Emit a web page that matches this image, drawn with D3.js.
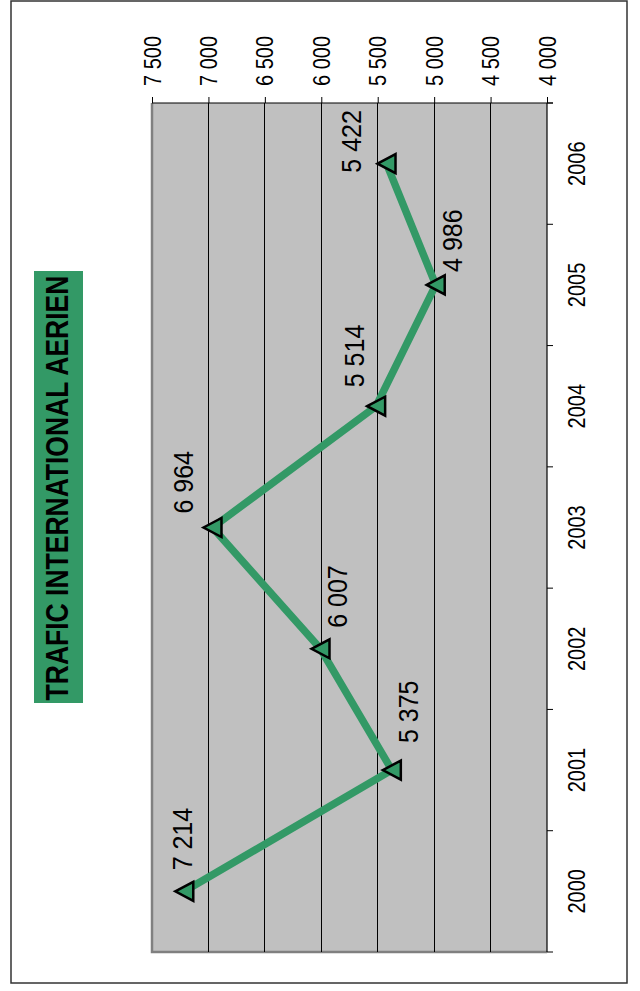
<!DOCTYPE html>
<html>
<head>
<meta charset="utf-8">
<script src="https://cdn.jsdelivr.net/npm/d3@7"></script>
<style>
  html, body { margin: 0; padding: 0; background: #fff; }
  svg { display: block; font-family: "Liberation Sans", Arial, sans-serif; }
</style>
</head>
<body>
<svg id="chart" width="640" height="991"></svg>
<script>
// ---- data ----
const title = "TRAFIC INTERNATIONAL AERIEN";
const years = ["2000", "2001", "2002", "2003", "2004", "2005", "2006"];
const traffic = [7214, 5375, 6007, 6964, 5514, 4986, 5422];
const valueTicks = [4000, 4500, 5000, 5500, 6000, 6500, 7000, 7500];

// ---- layout (chart is drawn rotated by -90 degrees) ----
const plot = { left: 152, right: 547, top: 103, bottom: 952 };
// manual label offsets (screen x shift, screen gap above point)
const labelShiftX = [-2, 17, 17, -29, -21, 17, -35];
const labelGapY = [21, 27, 21, 14, 19, 13, -9];
const green = "#339966";

const fmt = d3.formatLocale({ decimal: ",", thousands: " ", grouping: [3], currency: ["", ""] }).format(",");

const svg = d3.select("#chart");

// outer border
svg.append("rect").attr("x", 11).attr("y", 1).attr("width", 616).attr("height", 982)
  .attr("fill", "#fff").attr("stroke", "#333").attr("stroke-width", 1.5);

// scales: value -> screen x (reversed), year -> screen y (2000 at bottom)
const x = d3.scaleLinear().domain([4000, 7500]).range([plot.right, plot.left]);
const y = d3.scaleBand().domain(years).range([plot.bottom, plot.top]).padding(0);
const bw = y.bandwidth();
const cy = d => y(d) + bw / 2;

// plot area
svg.append("rect").attr("x", plot.left).attr("y", plot.top)
  .attr("width", plot.right - plot.left).attr("height", plot.bottom - plot.top)
  .attr("fill", "#c0c0c0");
// gray left & bottom border
svg.append("path")
  .attr("d", `M${plot.left},${plot.top}V${plot.bottom}H${plot.right}`)
  .attr("fill", "none").attr("stroke", "#808080").attr("stroke-width", 2.5);

// gridlines
svg.append("g").selectAll("line").data(valueTicks.filter(v => v > 4000 && v < 7500)).join("line")
  .attr("x1", d => x(d)).attr("x2", d => x(d))
  .attr("y1", plot.top).attr("y2", plot.bottom)
  .attr("stroke", "#000").attr("stroke-width", 1).attr("shape-rendering", "crispEdges");

// value axis (top)
const vAxis = svg.append("g").attr("transform", `translate(0,${plot.top})`)
  .call(d3.axisTop(x).tickValues(valueTicks).tickSize(6).tickSizeOuter(0).tickFormat(fmt));
vAxis.select(".domain").remove();
vAxis.selectAll(".tick line").attr("stroke", "#000").attr("stroke-width", 1);
vAxis.selectAll(".tick text")
  .attr("x", 0).attr("y", 0).attr("dy", null)
  .attr("transform", "translate(0,-17) rotate(-90) scale(1,1.19)")
  .attr("text-anchor", "start").attr("dominant-baseline", "central")
  .attr("font-size", 20).attr("fill", "#000")
  .attr("font-family", "'Liberation Sans', Arial, sans-serif");
svg.append("line").attr("x1", plot.left).attr("x2", plot.right + 6)
  .attr("y1", plot.top).attr("y2", plot.top).attr("stroke", "#000").attr("stroke-width", 1.2);

// category axis (right)
svg.append("line").attr("x1", plot.right).attr("x2", plot.right)
  .attr("y1", plot.top).attr("y2", plot.bottom).attr("stroke", "#000").attr("stroke-width", 1.2);
const bounds = years.map(d => y(d) + bw).concat([y(years[years.length - 1])]);
svg.append("g").selectAll("line").data(bounds).join("line")
  .attr("x1", plot.right).attr("x2", plot.right + 6)
  .attr("y1", d => d).attr("y2", d => d)
  .attr("stroke", "#000").attr("stroke-width", 1);
svg.append("g").selectAll("text").data(years).join("text")
  .attr("transform", d => `translate(577,${cy(d)}) rotate(-90) scale(1,1.19)`)
  .attr("text-anchor", "middle").attr("dominant-baseline", "central")
  .attr("font-size", 20).attr("fill", "#000")
  .text(d => d);

// line
const pts = years.map((d, i) => ({ year: d, v: traffic[i], i }));
svg.append("path").datum(pts)
  .attr("d", d3.line().x(d => x(d.v)).y(d => cy(d.year)))
  .attr("fill", "none").attr("stroke", green).attr("stroke-width", 7.5)
  .attr("stroke-linejoin", "round");

// markers (triangles pointing left on screen)
svg.append("g").selectAll("path").data(pts).join("path")
  .attr("transform", d => `translate(${x(d.v)},${cy(d.year)})`)
  .attr("d", "M-9,0L9,-9.5L9,9.5Z")
  .attr("fill", green).attr("stroke", "#000").attr("stroke-width", 2.5)
  .attr("stroke-linejoin", "miter");

// data labels
svg.append("g").selectAll("text").data(pts).join("text")
  .attr("transform", d => `translate(${x(d.v) + labelShiftX[d.i]},${cy(d.year) - labelGapY[d.i]}) rotate(-90) scale(1,1.08)`)
  .attr("text-anchor", "start").attr("dominant-baseline", "central")
  .attr("font-size", 25).attr("fill", "#000")
  .text(d => fmt(d.v));

// title
svg.append("rect").attr("x", 34).attr("y", 271).attr("width", 49).attr("height", 432)
  .attr("fill", green);
svg.append("text")
  .attr("transform", "translate(57,488) rotate(-90) scale(1,1.16)")
  .attr("text-anchor", "middle").attr("dominant-baseline", "central")
  .attr("font-size", 26.5).attr("font-weight", "bold").attr("fill", "#000")
  .text(title);
</script>
</body>
</html>
